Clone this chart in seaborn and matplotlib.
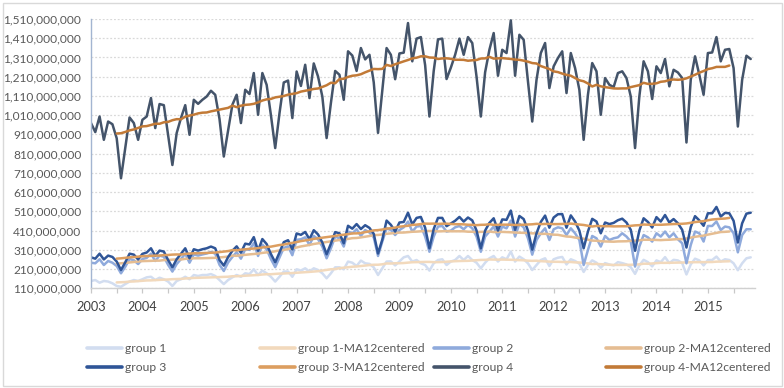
import numpy as np
import pandas as pd
import matplotlib
matplotlib.use("Agg")
import matplotlib.pyplot as plt
import seaborn as sns
from matplotlib.lines import Line2D
from matplotlib.patches import Rectangle
from matplotlib.ticker import FuncFormatter

# ---- data (millions), monthly Jan 2003 .. Nov 2015 ----
years = list(range(2003, 2016))

group1 = [148, 153, 139, 148, 145, 136, 122, 118, 132, 145, 153, 148,
          157, 167, 170, 153, 165, 157, 145, 122, 148, 157, 170, 157,
          179, 174, 179, 179, 184, 174, 153, 132, 153, 167, 179, 170,
          188, 184, 209, 179, 202, 188, 170, 145, 170, 197, 197, 170,
          209, 202, 214, 197, 214, 205, 188, 162, 188, 219, 219, 209,
          249, 243, 226, 254, 240, 237, 219, 179, 214, 249, 250, 229,
          250, 271, 278, 249, 257, 240, 231, 202, 240, 257, 261, 231,
          249, 257, 278, 257, 278, 257, 243, 214, 243, 266, 278, 249,
          271, 261, 301, 249, 275, 261, 240, 205, 231, 257, 266, 226,
          261, 269, 273, 234, 261, 252, 238, 195, 231, 255, 243, 217,
          241, 234, 229, 246, 241, 234, 220, 185, 229, 258, 246, 224,
          255, 246, 272, 241, 258, 255, 241, 182, 234, 264, 255, 229,
          257, 257, 275, 249, 261, 257, 240, 204, 240, 266, 271]

group2 = [243, 240, 261, 231, 252, 243, 226, 188, 222, 262, 256, 236,
          262, 268, 290, 252, 280, 274, 232, 197, 236, 262, 290, 243,
          286, 280, 286, 291, 299, 290, 232, 200, 244, 273, 298, 264,
          313, 310, 345, 278, 337, 313, 262, 220, 270, 320, 328, 282,
          362, 365, 375, 335, 382, 365, 327, 266, 318, 379, 370, 327,
          405, 396, 417, 382, 413, 400, 375, 278, 353, 422, 413, 387,
          413, 427, 457, 405, 431, 434, 379, 300, 379, 431, 434, 405,
          410, 427, 434, 417, 439, 422, 379, 300, 379, 405, 431, 379,
          431, 422, 462, 379, 445, 427, 370, 285, 361, 396, 422, 361,
          417, 427, 422, 387, 422, 396, 361, 231, 309, 382, 370, 327,
          382, 361, 370, 375, 396, 379, 353, 223, 327, 387, 375, 353,
          396, 379, 405, 375, 396, 365, 344, 240, 335, 405, 396, 353,
          434, 434, 457, 413, 431, 427, 396, 297, 387, 417, 417]

group3 = [271, 264, 290, 260, 280, 273, 249, 205, 245, 290, 285, 260,
          289, 296, 318, 278, 306, 301, 257, 219, 261, 289, 318, 266,
          313, 306, 313, 318, 327, 318, 257, 228, 272, 305, 328, 295,
          342, 338, 376, 305, 366, 340, 288, 245, 296, 350, 360, 312,
          395, 388, 403, 365, 412, 390, 348, 287, 342, 402, 396, 344,
          435, 420, 444, 418, 438, 424, 393, 291, 363, 462, 440, 405,
          452, 455, 503, 442, 476, 481, 425, 318, 418, 476, 476, 433,
          447, 461, 481, 457, 478, 463, 410, 318, 410, 450, 474, 410,
          468, 466, 514, 414, 486, 470, 410, 311, 396, 455, 488, 425,
          478, 495, 496, 425, 489, 457, 410, 318, 405, 471, 457, 396,
          452, 444, 450, 464, 472, 452, 414, 305, 410, 474, 455, 426,
          480, 457, 491, 452, 470, 448, 414, 322, 428, 485, 463, 435,
          500, 500, 533, 483, 502, 500, 461, 348, 448, 498, 503]

group4 = [969, 922, 1003, 882, 977, 963, 890, 682, 839, 998, 969, 882,
          986, 1003, 1099, 943, 1068, 1062, 908, 751, 917, 995, 1062, 908,
          1090, 1069, 1090, 1107, 1137, 1116, 990, 795, 930, 1064, 1116, 969,
          1142, 1120, 1229, 1012, 1229, 1168, 1010, 839, 1020, 1180, 1190, 995,
          1237, 1162, 1272, 1099, 1279, 1211, 1107, 891, 1073, 1240, 1220, 1090,
          1342, 1320, 1240, 1359, 1300, 1324, 1181, 918, 1140, 1359, 1324, 1197,
          1331, 1335, 1489, 1290, 1408, 1416, 1270, 1003, 1240, 1404, 1408, 1198,
          1257, 1324, 1408, 1324, 1416, 1385, 1210, 1003, 1233, 1350, 1437, 1215,
          1350, 1333, 1503, 1215, 1428, 1402, 1186, 977, 1194, 1333, 1385, 1151,
          1264, 1307, 1342, 1125, 1333, 1255, 1142, 882, 1116, 1281, 1238, 1012,
          1203, 1168, 1156, 1229, 1238, 1203, 1107, 839, 1107, 1290, 1238, 1094,
          1264, 1229, 1302, 1160, 1246, 1232, 1203, 868, 1194, 1316, 1220, 1116,
          1333, 1336, 1416, 1290, 1350, 1354, 1255, 951, 1194, 1319, 1302]

group_names = ["group 1", "group 2", "group 3", "group 4"]
data_colors = ["#d2ddf0", "#8faadc", "#2f5597", "#44546a"]
ma_colors = ["#f2d9bc", "#e5bd92", "#dc9e60", "#c27a37"]

# ---- frame ----
n = len(group1)
df = pd.DataFrame({"month": np.arange(n)})
for name, vals in zip(group_names, [group1, group2, group3, group4]):
    df[name] = np.array(vals, dtype=float) * 1e6
    # centered 12-month moving average of the series
    df[name + "-MA12centered"] = df[name].rolling(12).mean().shift(-5)

sns.set_theme(style="white")
plt.rcParams['font.family'] = ['Lato', 'DejaVu Sans']

fig = plt.figure(figsize=(7.84, 3.88), dpi=100)
W, H = 784, 388
ax = fig.add_axes([91 / W, 1 - 288.3 / H, (755 - 91) / W, (288.3 - 19) / H])

handles = []
labels = []
for name, dc, mc in zip(group_names, data_colors, ma_colors):
    sns.lineplot(data=df, x="month", y=name, ax=ax, color=dc, lw=1.8,
                 legend=False)
    sub = df.dropna(subset=[name + "-MA12centered"])
    sns.lineplot(data=sub, x="month", y=name + "-MA12centered", ax=ax,
                 color=mc, lw=1.8, legend=False)
    handles += [Line2D([], [], color=dc, lw=2.6),
                Line2D([], [], color=mc, lw=2.6)]
    labels += [name, name + "-MA12centered"]

ax.set_xlim(0, 155)
ax.set_ylim(110e6, 1510e6)
ax.set_yticks(np.arange(110e6, 1510e6 + 1, 100e6))
ax.yaxis.set_major_formatter(FuncFormatter(lambda v, p: f"{v:,.0f}"))
ax.set_xticks(np.arange(0, n, 12))
ax.set_xticklabels([str(y) for y in years])
ax.set_xticks(np.arange(6, n, 12), minor=True)
ax.set_xlabel("")
ax.set_ylabel("")

ax.yaxis.grid(True, linestyle=(0, (1.5, 1.5)), color="#d9d9d9", lw=0.9)
ax.xaxis.grid(False)
ax.set_axisbelow(True)

for s in ["top", "right"]:
    ax.spines[s].set_visible(False)
ax.spines["left"].set_color("#a3b5d1")
ax.spines["left"].set_linewidth(1.0)
ax.spines["bottom"].set_color("#d0d0d0")
ax.spines["bottom"].set_linewidth(1.0)

ax.tick_params(axis="y", length=0, pad=7, labelsize=8.6, labelcolor="#595959")
ax.tick_params(axis="x", which="both", direction="out", length=3.5,
               width=0.9, color="#c8c8c8", bottom=True)
ax.tick_params(axis="x", which="major", pad=6, labelsize=9.2,
               labelcolor="#404040")

# ---- legend: 4 columns x 2 rows ----
col_x = [87, 260, 434, 606]
order = [(0, 4), (1, 5), (2, 6), (3, 7)]
for cx, (a, b) in zip(col_x, order):
    leg = fig.legend([handles[a], handles[b]], [labels[a], labels[b]],
                     loc="upper left", bbox_to_anchor=(cx / W, 1 - 343 / H),
                     frameon=False, fontsize=8.7, handlelength=2.9,
                     handletextpad=0.25, labelspacing=0.65, borderpad=0,
                     borderaxespad=0)
    for t in leg.get_texts():
        t.set_color("#595959")

# chart border
fig.patches.append(Rectangle((2.5 / W, 2.5 / H), 1 - 5 / W, 1 - 5 / H,
                             transform=fig.transFigure, fill=False,
                             edgecolor="#d9d9d9", lw=1.0))

fig.savefig("out.png", dpi=100)
